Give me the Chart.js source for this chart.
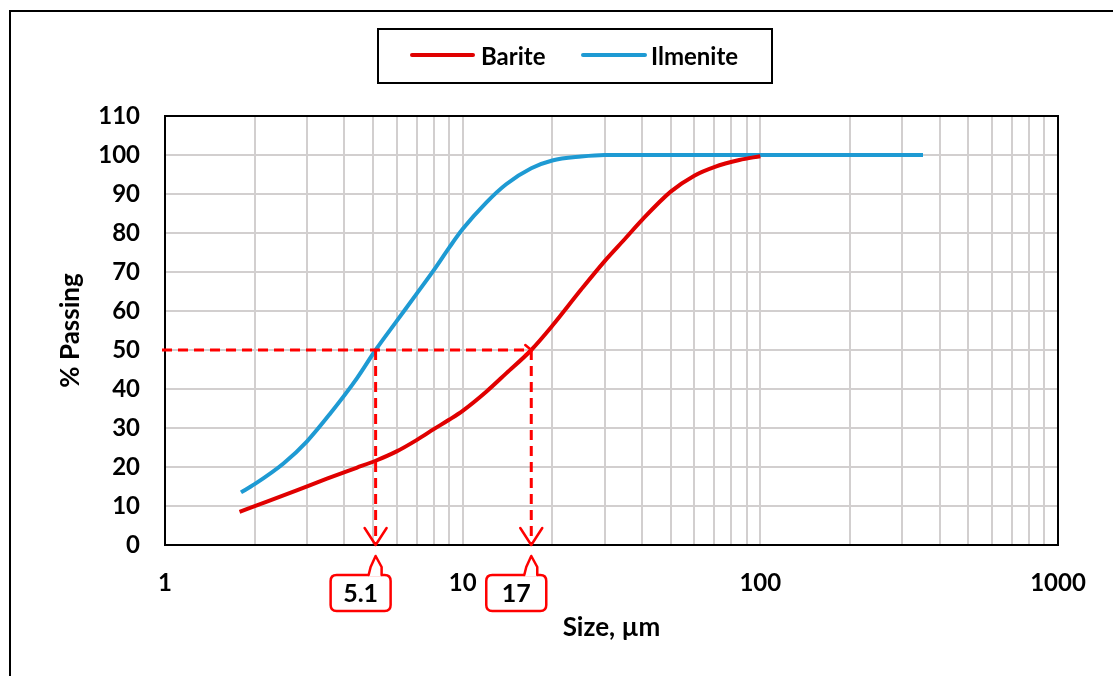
<!DOCTYPE html>
<html>
<head>
<meta charset="utf-8">
<title>Particle size distribution</title>
<script src="https://cdn.jsdelivr.net/npm/chart.js@4/dist/chart.umd.min.js"></script>
<style>
  html, body { margin: 0; padding: 0; background: #fff; }
  #wrap { width: 1113px; height: 676px; position: relative; }
</style>
</head>
<body>
<div id="wrap"><canvas id="psd" width="1113" height="676"></canvas></div>
<script>
// ---- data ----
const seriesNames = ['Barite', 'Ilmenite'];

const bariteSize    = [1.78, 2.2, 2.77, 3.5, 4.4, 5.1, 6.0, 7.0, 8.0, 9.0, 10, 12, 14, 17, 20, 25, 30, 35, 40, 50, 60, 70, 85, 100];
const baritePassing = [8.5, 11.1, 14.0, 17.0, 19.8, 21.6, 24.0, 26.9, 29.7, 32.1, 34.4, 39.3, 44.0, 50.0, 56.2, 65.5, 72.8, 78.4, 83.3, 90.6, 94.7, 96.9, 98.7, 99.7];

const ilmeniteSize    = [1.8, 2.0, 2.5, 3.0, 3.58, 4.4, 5.1, 6.0, 7.0, 8.0, 9.0, 10, 12, 14, 17, 20, 25, 30, 40, 60, 100, 200, 352];
const ilmenitePassing = [13.5, 15.6, 20.9, 26.6, 33.6, 42.6, 50.0, 57.4, 64.4, 70.5, 76.2, 81.0, 87.8, 92.5, 96.6, 98.6, 99.6, 100, 100, 100, 100, 100, 100];

// median (d50) sizes marked on the chart
const d50Sizes  = [5.1, 17];
const d50Labels = ['5.1', '17'];
const passingLevel = 50;

const xTickLabels = ['1', '10', '100', '1000'];
const yTickValues = [0, 10, 20, 30, 40, 50, 60, 70, 80, 90, 100, 110];

const seriesColors = ['#E00000', '#1E9AD3'];
const FONT = 'Lato, "Open Sans", "DejaVu Sans", sans-serif';

const toPoints = (xs, ys) => xs.map((v, i) => ({ x: v, y: ys[i] }));

// log grid: 1..9 in every decade up to 1000
const xGridValues = [];
for (let d = 1; d <= 100; d *= 10) for (let k = 1; k <= 9; k++) xGridValues.push(k * d);
xGridValues.push(1000);

const line = (ctx, x1, y1, x2, y2) => { ctx.beginPath(); ctx.moveTo(x1, y1); ctx.lineTo(x2, y2); ctx.stroke(); };

function roundRect(ctx, x, y, w, h, r) {
  ctx.beginPath();
  ctx.moveTo(x + r, y);
  ctx.lineTo(x + w - r, y); ctx.quadraticCurveTo(x + w, y, x + w, y + r);
  ctx.lineTo(x + w, y + h - r); ctx.quadraticCurveTo(x + w, y + h, x + w - r, y + h);
  ctx.lineTo(x + r, y + h); ctx.quadraticCurveTo(x, y + h, x, y + h - r);
  ctx.lineTo(x, y + r); ctx.quadraticCurveTo(x, y, x + r, y);
  ctx.closePath();
}

const decorations = {
  id: 'decorations',
  beforeDraw(chart) {
    const { ctx, width, height } = chart;
    ctx.save();
    ctx.fillStyle = '#fff';
    ctx.fillRect(0, 0, width, height);
    ctx.strokeStyle = '#000';
    ctx.lineWidth = 2;
    ctx.strokeRect(10, 11, width + 20, height + 20);
    ctx.restore();
  },
  afterDatasetsDraw(chart) {
    const { ctx, chartArea: a, scales: { x, y } } = chart;
    ctx.save();
    // plot frame
    ctx.strokeStyle = '#000';
    ctx.lineWidth = 2;
    ctx.strokeRect(a.left, a.top, a.right - a.left, a.bottom - a.top);

    // d50 guide lines
    const yl = y.getPixelForValue(passingLevel);
    const y0 = y.getPixelForValue(0);
    const xLast = x.getPixelForValue(d50Sizes[d50Sizes.length - 1]);
    ctx.strokeStyle = '#FF0000';
    ctx.lineWidth = 3;
    ctx.setLineDash([10, 6]);
    line(ctx, a.left - 3, yl, xLast, yl);
    d50Sizes.forEach(v => {
      const px = x.getPixelForValue(v);
      line(ctx, px, yl, px, y0);
    });
    ctx.setLineDash([]);
    ctx.lineCap = 'round';
    ctx.lineJoin = 'round';
    // arrow heads
    ctx.lineWidth = 2.5;
    ctx.beginPath();
    ctx.moveTo(xLast - 6, yl - 5); ctx.lineTo(xLast, yl); ctx.lineTo(xLast - 6, yl + 5);
    ctx.stroke();
    d50Sizes.forEach(v => {
      const px = x.getPixelForValue(v);
      ctx.beginPath();
      ctx.moveTo(px - 11, y0 - 17); ctx.lineTo(px, y0); ctx.lineTo(px + 11, y0 - 17);
      ctx.stroke();
    });

    // callouts with the d50 values
    d50Sizes.forEach((v, i) => {
      const px = x.getPixelForValue(v);
      const apexY = y0 + 11;
      const bw = 60, bh = 36, bx = px - 45, by = y0 + 30;
      ctx.lineWidth = 2.5;
      ctx.strokeStyle = '#FF0000';
      ctx.fillStyle = '#fff';
      roundRect(ctx, bx, by, bw, bh, 6);
      ctx.fill(); ctx.stroke();
      // pointer
      ctx.beginPath();
      ctx.moveTo(px - 7, by + 1.5);
      ctx.lineTo(px - 5, by - 8);
      ctx.lineTo(px, apexY);
      ctx.lineTo(px + 6, by - 8);
      ctx.lineTo(px + 6, by + 1.5);
      ctx.closePath();
      ctx.fill();
      ctx.beginPath();
      ctx.moveTo(px - 7, by);
      ctx.lineTo(px - 5, by - 8);
      ctx.lineTo(px, apexY);
      ctx.lineTo(px + 6, by - 8);
      ctx.lineTo(px + 6, by);
      ctx.stroke();
      ctx.fillStyle = '#000';
      ctx.font = 'bold 25px ' + FONT;
      ctx.textAlign = 'center';
      ctx.textBaseline = 'middle';
      ctx.fillText(d50Labels[i], bx + bw / 2, by + bh / 2 + 1);
    });
    ctx.restore();
  },
  afterDraw(chart) {
    // legend box
    const { ctx } = chart;
    ctx.save();
    ctx.strokeStyle = '#000';
    ctx.lineWidth = 2;
    ctx.strokeRect(378, 29, 394, 54);
    const entries = [
      { x1: 412, x2: 473, tx: 481 },
      { x1: 583, x2: 645, tx: 651 }
    ];
    chart.data.datasets.forEach((ds, i) => {
      const e = entries[i];
      ctx.strokeStyle = ds.borderColor;
      ctx.lineWidth = 4;
      ctx.lineCap = 'round';
      line(ctx, e.x1, 55, e.x2, 55);
      ctx.fillStyle = '#000';
      ctx.font = 'bold 24px ' + FONT;
      ctx.textAlign = 'left';
      ctx.textBaseline = 'middle';
      ctx.fillText(ds.label, e.tx, 57);
    });
    ctx.restore();
  }
};

new Chart(document.getElementById('psd'), {
  type: 'line',
  data: {
    datasets: [
      {
        label: seriesNames[0],
        data: toPoints(bariteSize, baritePassing),
        borderColor: seriesColors[0],
        backgroundColor: seriesColors[0],
        borderWidth: 4,
        pointRadius: 0,
        cubicInterpolationMode: 'monotone',
        fill: false
      },
      {
        label: seriesNames[1],
        data: toPoints(ilmeniteSize, ilmenitePassing),
        borderColor: seriesColors[1],
        backgroundColor: seriesColors[1],
        borderWidth: 4,
        pointRadius: 0,
        cubicInterpolationMode: 'monotone',
        fill: false
      }
    ]
  },
  options: {
    responsive: false,
    animation: false,
    devicePixelRatio: 1,
    layout: { padding: { left: 0, top: 116, right: 55, bottom: 0 } },
    plugins: {
      legend: { display: false },
      tooltip: { enabled: false }
    },
    scales: {
      x: {
        type: 'logarithmic',
        min: 1,
        max: 1000,
        afterFit(scale) { scale.height = 131; },
        afterBuildTicks(scale) { scale.ticks = xGridValues.map(v => ({ value: v })); },
        grid: { color: 'rgb(210,207,207)', lineWidth: 2, drawTicks: false },
        border: { display: true, color: '#000', width: 2 },
        ticks: {
          autoSkip: false,
          maxRotation: 0,
          padding: 24,
          color: '#000',
          font: { family: FONT, size: 24, weight: 'bold' },
          callback(value) {
            const idx = [1, 10, 100, 1000].indexOf(value);
            return idx >= 0 ? xTickLabels[idx] : '';
          }
        },
        title: {
          display: true,
          text: 'Size, µm',
          color: '#000',
          font: { family: FONT, size: 26, weight: 'bold' },
          padding: { top: 0, bottom: 33 }
        }
      },
      y: {
        min: 0,
        max: 110,
        afterFit(scale) { scale.width = 165; },
        afterBuildTicks(scale) { scale.ticks = yTickValues.map(v => ({ value: v })); },
        grid: { color: 'rgb(210,207,207)', lineWidth: 2, drawTicks: false },
        border: { display: true, color: '#000', width: 2 },
        ticks: {
          padding: 25,
          color: '#000',
          font: { family: FONT, size: 24, weight: 'bold' }
        },
        title: {
          display: true,
          text: '% Passing',
          color: '#000',
          font: { family: FONT, size: 26, weight: 'bold' },
          padding: { top: 55, bottom: 0 }
        }
      }
    }
  },
  plugins: [decorations]
});
</script>
</body>
</html>
